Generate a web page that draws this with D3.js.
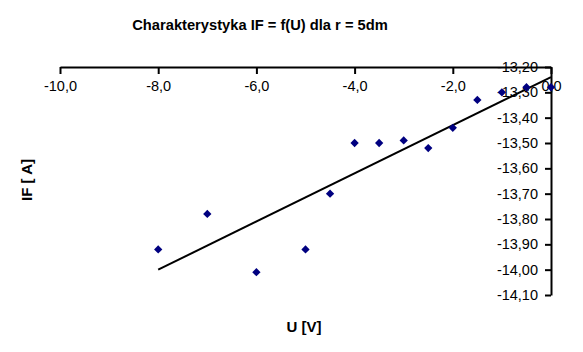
<!DOCTYPE html>
<html>
<head>
<meta charset="utf-8">
<script src="https://cdn.jsdelivr.net/npm/d3@7"></script>
<style>
  body { margin: 0; background: white; }
  text { font-family: "Liberation Sans", Arial, sans-serif; }
</style>
</head>
<body>
<div id="plot"></div>
<script>
// measured points
const uValues = [-8.0, -7.0, -6.0, -5.0, -4.5, -4.0, -3.5, -3.0, -2.5, -2.0, -1.5, -1.0, -0.5, 0.0];
const ifValues = [-13.92, -13.78, -14.01, -13.92, -13.70, -13.50, -13.50, -13.49, -13.52, -13.44, -13.33, -13.30, -13.28, -13.28];

// trend line end points
const trendU = [-8.0, 0.0];
const trendIF = [-14.00, -13.24];

const xTicks = [-10, -8, -6, -4, -2, 0];
const yTicks = [-14.1, -14.0, -13.9, -13.8, -13.7, -13.6, -13.5, -13.4, -13.3, -13.2];

const w = 583;
const h = 352;

const svg = d3.select("div#plot")
  .append("svg")
  .attr("width", w)
  .attr("height", h);

svg.append("rect")
  .attr("width", w)
  .attr("height", h)
  .attr("fill", "white");

const xScale = d3.scaleLinear().domain([-10, 0]).range([60, 551]);
const yScale = d3.scaleLinear().domain([-14.1, -13.2]).range([295, 67]);

const fmt = (d, p) => d.toFixed(p).replace(".", ",");

// x axis sits at the top (y = -13.2), ticks pointing down
const xAxis = svg.append("g")
  .attr("transform", `translate(0,${yScale(-13.2)})`)
  .call(d3.axisBottom(xScale).tickValues(xTicks).tickSize(7).tickSizeOuter(0)
    .tickFormat(d => fmt(d, 1)));

// y axis sits at the right (x = 0), ticks pointing left
const yAxis = svg.append("g")
  .attr("transform", `translate(${xScale(0)},0)`)
  .call(d3.axisLeft(yScale).tickValues(yTicks).tickSize(6).tickSizeOuter(0)
    .tickFormat(d => fmt(d, 2)));

[xAxis, yAxis].forEach(g => {
  g.select(".domain").attr("stroke", "black").attr("stroke-width", 2);
  g.selectAll(".tick line").attr("stroke", "black").attr("stroke-width", 2);
  g.selectAll(".tick text")
    .attr("fill", "black")
    .style("font-size", "14.5px")
    .style("font-family", "'Liberation Sans', Arial, sans-serif");
});
xAxis.selectAll(".tick text").attr("y", 14);
yAxis.selectAll(".tick text").attr("x", -13);

// trend line
svg.append("line")
  .attr("x1", xScale(trendU[0]))
  .attr("y1", yScale(trendIF[0]))
  .attr("x2", xScale(trendU[1]))
  .attr("y2", yScale(trendIF[1]))
  .attr("stroke", "black")
  .attr("stroke-width", 2);

// diamonds
svg.selectAll(".pt")
  .data(uValues.map((u, i) => [u, ifValues[i]]))
  .enter()
  .append("path")
  .attr("class", "pt")
  .attr("d", d3.symbol().type(d3.symbolDiamond2).size(44))
  .attr("transform", d => `translate(${xScale(d[0])},${yScale(d[1])})`)
  .attr("fill", "#000080");

svg.append("text")
  .attr("x", 260)
  .attr("y", 30)
  .attr("text-anchor", "middle")
  .style("font-size", "14.7px")
  .style("font-weight", "bold")
  .text("Charakterystyka IF = f(U) dla r = 5dm");

svg.append("text")
  .attr("x", 304)
  .attr("y", 332)
  .attr("text-anchor", "middle")
  .style("font-size", "15px")
  .style("font-weight", "bold")
  .text("U [V]");

svg.append("text")
  .attr("transform", "translate(32,180) rotate(-90)")
  .attr("text-anchor", "middle")
  .style("font-size", "15px")
  .style("font-weight", "bold")
  .text("IF [ A]");
</script>
</body>
</html>
